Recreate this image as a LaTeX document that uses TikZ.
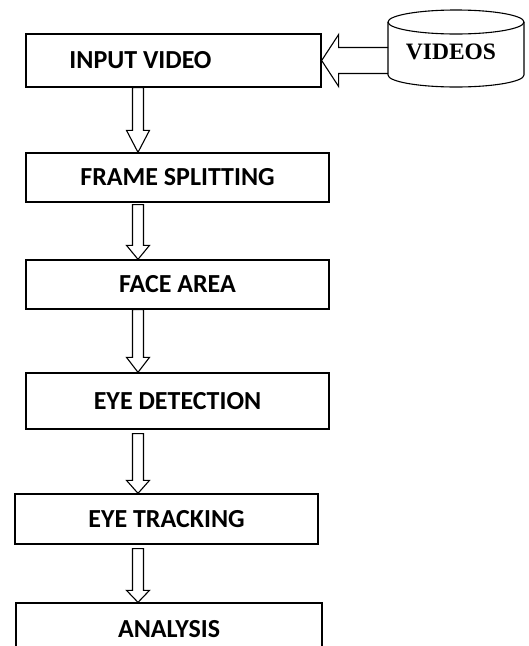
\documentclass[tikz,border=0pt]{standalone}
\usepackage{fontspec}
\newfontfamily\stagefont{Carlito}
\newfontfamily\storefont{Liberation Serif}
\usetikzlibrary{calc}

\tikzstyle{stage text}=[font=\stagefont\bfseries\fontsize{26}{31}\selectfont, inner sep=0pt]
\tikzstyle{stage box}=[draw, line width=1.3pt, minimum width=303pt, minimum height=49pt, stage text]
\tikzstyle{block arrow}=[draw, line width=1.1pt, line join=miter]

% hollow down arrow: from, to, head length, gap below the upper box
\newcommand{\blockdown}[4]{%
  \draw[block arrow] let \p1=(#1.south -| spine), \p2=(#2.north -| spine) in
    (\x1-5.5pt,\y1-#4) -- (\x1-5.5pt,\y2+#3) -- (\x1-11.5pt,\y2+#3) -- (\x2,\y2)
    -- (\x1+11.5pt,\y2+#3) -- (\x1+5.5pt,\y2+#3) -- (\x1+5.5pt,\y1-#4) -- cycle;}

\begin{document}
\begin{tikzpicture}[x=1pt, y=-1pt]
  \clip (0,0) rectangle (529,646);
  \coordinate (spine) at (138,0);

  % stages
  \node[stage box, minimum width=295pt, minimum height=53pt,
        label={[stage text, xshift=-33pt]center:INPUT VIDEO}] (input) at (173.5,60.5) {};
  \node[stage box] (frames) at (177.5,177.5) {FRAME SPLITTING};
  \node[stage box] (face) at (177.5,284.5) {FACE AREA};
  \node[stage box, minimum height=56pt] (detect) at (177.5,401) {EYE DETECTION};
  \node[stage box, minimum height=50pt] (track) at (166.5,519) {EYE TRACKING};
  \node[stage box, minimum width=306pt, minimum height=52pt] (analysis) at (169,629) {ANALYSIS};

  % video store
  \draw[block arrow] (388,22) -- (388,75) arc[start angle=180, end angle=360, x radius=68pt, y radius=12pt] -- (524,22);
  \draw[block arrow] (456,22) ellipse[x radius=68pt, y radius=12pt];
  \coordinate (store wall) at (388,48);
  \node[font=\storefont\bfseries\fontsize{23.5}{28}\selectfont, inner sep=0pt] (videos) at (451,52) {VIDEOS};

  % arrows
  \draw[block arrow] let \p1=(input.east), \p2=(store wall |- input.east) in
    (\x2,\y1+13pt) -- (\x1+17pt,\y1+13pt) -- (\x1+17pt,\y1+26pt) -- (\x1,\y1)
    -- (\x1+17pt,\y1-26pt) -- (\x1+17pt,\y1-13pt) -- (\x2,\y1-13pt);
  \blockdown{input}{frames}{22pt}{0pt}
  \blockdown{frames}{face}{14pt}{2pt}
  \blockdown{face}{detect}{15pt}{0pt}
  \blockdown{detect}{track}{13pt}{4pt}
  \blockdown{track}{analysis}{12pt}{4pt}
\end{tikzpicture}
\end{document}
